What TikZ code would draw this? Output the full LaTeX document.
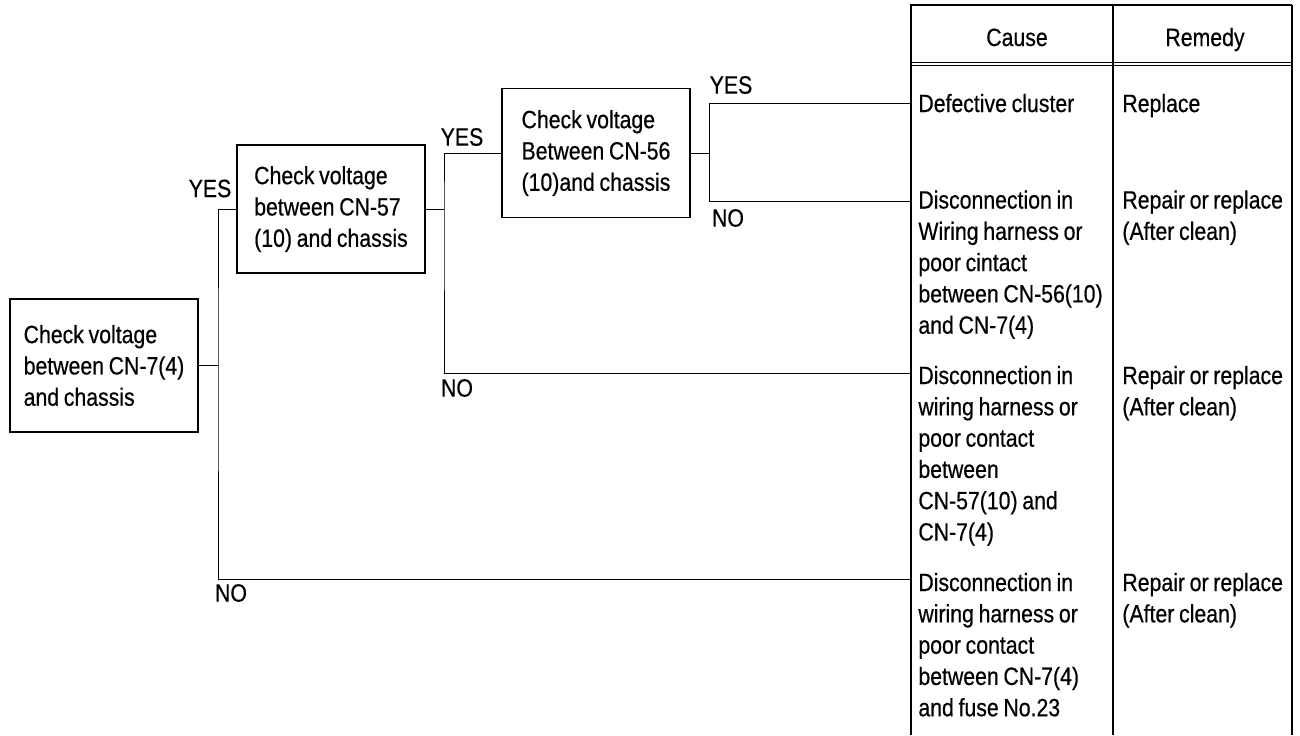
\documentclass[tikz,border=0pt]{standalone}
\usepackage{fontspec}
\setmainfont[FakeStretch=0.85,WordSpace=0.8,FakeBold=0.5]{Liberation Sans}
\begin{document}
\begin{tikzpicture}[x=.5pt,y=-.5pt,
		txt/.style={font=\fontsize{12.5}{15.65}\selectfont},
		check/.style={txt,draw,line width=.7pt,minimum width=94pt,align=left},
		cell/.style={txt,anchor=north west,inner sep=0pt,align=left},
		lbl/.style={txt,inner sep=0pt},
		wire/.style={line width=.45pt}]
		\useasboundingbox (0,0) rectangle (1300,735);
		% check boxes
			\node[check,minimum height=66.5pt] (cn7)  at (104,365.5) {Check voltage\\between CN-7(4)\\and chassis};
			\node[check,minimum height=64pt]   (cn57) at (331,209)   {Check voltage\\between CN-57\\(10) and chassis};
			\node[check,minimum height=64.5pt] (cn56) at (596,153)   {Check voltage\\Between CN-56\\(10)and chassis};
		% table
			\draw[line width=.6pt] (911,735) -- (911,5) -- (1292,5);
			\draw[line width=1pt]  (1292,5) -- (1292,735);
			\draw[line width=.6pt] (1113,5) -- (1113,735);
			\draw[line width=.5pt] (911,62) -- (1292,62) (911,65.5) -- (1292,65.5);
			\node[txt,anchor=base] (cause)  at (1017,46) {Cause};
			\node[txt,anchor=base] (remedy) at (1205,46) {Remedy};
		% causes
			\node[cell] (cause-1) at (918,93.5)  {Defective cluster};
			\node[cell] (cause-2) at (918,190)   {Disconnection in\\Wiring harness or\\poor cintact\\between CN-56(10)\\and CN-7(4)};
			\node[cell] (cause-3) at (918,365.5) {Disconnection in\\wiring harness or\\poor contact\\between\\CN-57(10) and\\CN-7(4)};
			\node[cell] (cause-4) at (918,572.5) {Disconnection in\\wiring harness or\\poor contact\\between CN-7(4)\\and fuse No.23};
		% remedies
			\node[cell] (rem-1) at (1122,93.5) {Replace};
			\foreach \y/\n in {190/2,365.5/3,572.5/4}
				\node[cell] (rem-\n) at (1122,\y) {Repair or replace\\(After clean)};
		% junctions
		 \path	(218,365.5) coordinate (j-1)
		 		(444,209)   coordinate (j-2)
		 		(709,153)   coordinate (j-3)
		 		(911,103)   coordinate (r-1)
		 		(911,201)   coordinate (r-2)
		 		(911,373)   coordinate (r-3)
		 		(911,579)   coordinate (r-4);
		% connectors
			\draw[wire] (cn7.east) -- (j-1);
			\draw[wire] (cn57.west) -| (j-1) |- (r-4);
			\draw[wire] (cn57.east) -- (j-2);
			\draw[wire] (cn56.west) -| (j-2) |- (r-3);
			\draw[wire] (cn56.east) -- (j-3);
			\draw[wire] (r-1) -| (j-3) |- (r-2);
		% yes / no
			\node[lbl] (yes-1) at (210,188.5) {YES};
			\node[lbl] (no-1)  at (231,593)   {NO};
			\node[lbl] (yes-2) at (462,137)   {YES};
			\node[lbl] (no-2)  at (457,388)   {NO};
			\node[lbl] (yes-3) at (731,85)    {YES};
			\node[lbl] (no-3)  at (728,218)   {NO};
	\end{tikzpicture}
\end{document}
